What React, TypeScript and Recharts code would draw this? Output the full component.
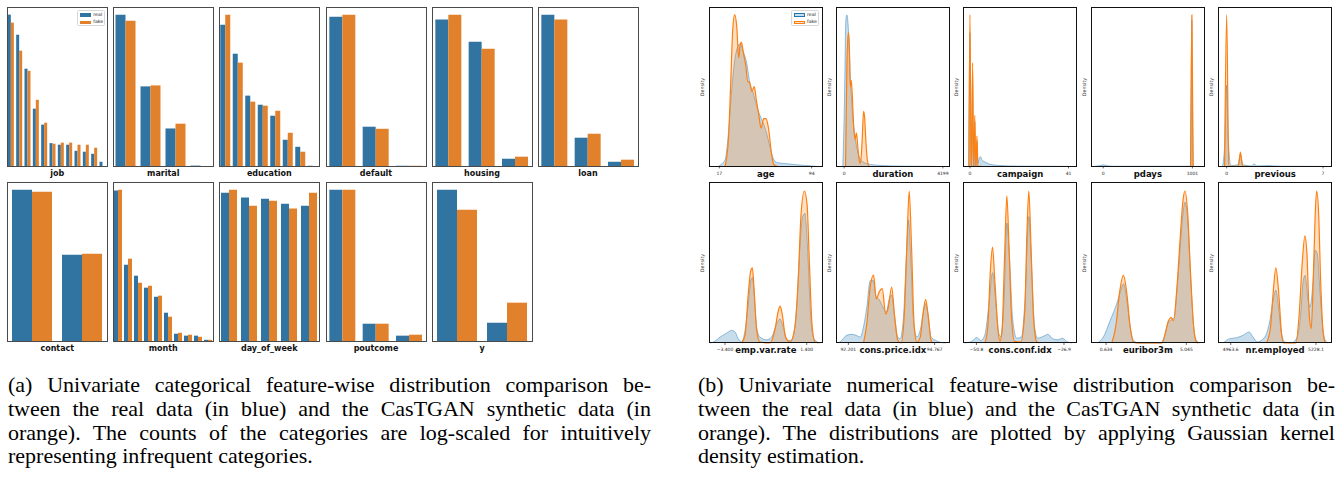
import { BarChart, Bar, AreaChart, Area, XAxis, YAxis } from 'recharts'

const BLUE = '#3274a1'
const ORANGE = '#e1812c'
const KDE_BLUE = '#1f77b4'
const KDE_ORANGE = '#ff7f0e'

// (a) categorical: bar heights on the log-count axis, read as % of the axes height
const jobCats = ['admin.', 'blue-collar', 'technician', 'services', 'management', 'retired', 'entrepreneur', 'self-employed', 'housemaid', 'unemployed', 'student', 'unknown']
const jobReal = [95.2, 82.6, 61.3, 36.2, 26.2, 14.6, 13.6, 13.6, 9.8, 9.2, 7.9, 2.9]
const jobFake = [90.2, 72.6, 60.0, 41.8, 27.4, 14.2, 14.9, 14.9, 13.6, 13.6, 11.7, 0]

const maritalCats = ['married', 'single', 'divorced', 'unknown']
const maritalReal = [95.2, 50.2, 23.8, 0.5]
const maritalFake = [91.4, 50.8, 26.8, 0]

const educationCats = ['university.degree', 'high.school', 'basic.9y', 'professional.course', 'basic.4y', 'basic.6y', 'unknown', 'illiterate']
const educationReal = [88.9, 70.7, 44.4, 38.7, 31.8, 16.7, 12.3, 0.4]
const educationFake = [95.2, 65.1, 40.6, 38.1, 34.9, 21.1, 9.2, 0]

const defaultCats = ['no', 'unknown', 'yes']
const defaultReal = [93.9, 24.9, 0.4]
const defaultFake = [95.2, 23.6, 0.4]

const housingCats = ['yes', 'no', 'unknown']
const housingReal = [92.1, 78.2, 4.8]
const housingFake = [95.2, 73.8, 6.1]

const loanCats = ['no', 'yes', 'unknown']
const loanReal = [95.2, 18.0, 2.9]
const loanFake = [92.1, 20.5, 4.2]

const contactCats = ['cellular', 'telephone']
const contactReal = [95.2, 54.4]
const contactFake = [93.9, 55.0]

const monthCats = ['may', 'jul', 'aug', 'jun', 'nov', 'apr', 'oct', 'sep', 'mar', 'dec']
const monthReal = [94.6, 48.1, 41.2, 33.7, 28.0, 18.0, 4.8, 3.6, 3.6, 1.0]
const monthFake = [95.2, 51.9, 36.8, 34.9, 28.7, 15.5, 5.4, 4.2, 2.9, 1.0]

const dayCats = ['thu', 'mon', 'wed', 'tue', 'fri']
const dayReal = [93.3, 90.2, 89.5, 86.4, 85.1]
const dayFake = [95.2, 85.1, 88.3, 83.3, 93.3]

const poutcomeCats = ['nonexistent', 'failure', 'success']
const poutcomeReal = [95.2, 11.1, 3.6]
const poutcomeFake = [95.2, 11.1, 4.2]

const yCats = ['no', 'yes']
const yReal = [95.2, 11.7]
const yFake = [82.6, 24.3]

// (b) numerical: KDE curves as [value, density in % of axes height]
const ageReal = [[16.2, 0], [19, 1.5], [21.8, 4], [24.6, 21], [27.3, 48], [30.1, 68], [32.3, 75], [34.3, 77], [37, 72], [39.8, 65], [42.6, 52], [45.3, 46], [48.1, 38], [50.9, 32], [53.7, 27], [56.4, 21], [59.2, 12.5], [62, 5], [64.8, 2.5], [69, 2], [73.1, 1.7], [81.5, 1], [92.6, 0.4], [98, 0]]
const ageFake = [[21.8, 0], [24.6, 17], [26.5, 52], [28.2, 86], [29.8, 95.2], [31.5, 88], [33.2, 68], [34.3, 76], [35.4, 78], [37.1, 71], [39.1, 63], [40.7, 53], [42.1, 53], [44.1, 47], [46.1, 50], [47.8, 42], [49.8, 33], [51.8, 24], [54, 30], [56, 30], [58.2, 23], [60.5, 8], [62.5, 1], [65.3, 0]]

const durationReal = [[-58, 0], [14, 42], [72, 92], [116, 95], [188, 84], [260, 56], [333, 38], [405, 25], [478, 17], [579, 9], [695, 4.6], [840, 2.5], [1130, 1.2], [1564, 0.6], [2432, 0.2], [3880, 0]]
const durationFake = [[58, 0], [116, 63], [174, 84], [217, 77], [260, 50], [304, 54], [347, 44], [405, 25], [463, 17], [521, 21], [579, 12.5], [637, 4], [695, 2], [767, 17], [825, 34.5], [869, 31], [927, 15], [985, 4], [1058, 0]]

const campaignReal = [[-0.5, 0], [0, 84], [0.45, 0], [0.65, 0], [1.1, 56], [1.5, 0], [1.6, 0], [2.0, 28], [2.4, 0], [2.5, 0], [2.9, 16], [3.3, 2], [3.8, 5], [4.4, 6], [5, 4], [6, 3], [8, 1.5], [12, 0.6], [20, 0.2], [41, 0]]
const campaignFake = [[-0.45, 0], [0, 95], [0.45, 0], [0.65, 0], [1.1, 65], [1.5, 0], [1.6, 0], [2.0, 32], [2.4, 0], [2.5, 0], [2.9, 19], [3.3, 0], [5, 0]]

const pdaysReal = [[-100, 0], [-30, 0.6], [0, 1], [30, 0.6], [100, 0.1], [500, 0.1], [960, 0.1], [982, 0], [995, 92], [1008, 0], [1100, 0]]
const pdaysFake = [[980, 0], [995, 95], [1010, 0]]

const previousReal = [[-0.3, 0], [-0.12, 18], [0, 51], [0.12, 18], [0.3, 0.5], [0.8, 1], [1, 7], [1.2, 1], [1.8, 0.3], [2, 1.5], [2.2, 0.3], [3, 0.5], [4, 0.1], [7, 0]]
const previousFake = [[-0.15, 0], [0, 95], [0.15, 0], [0.85, 0], [1, 9], [1.15, 0], [1.5, 0]]

const empReal = [[-4.28, 0], [-4.08, 0.6], [-3.69, 3.7], [-3.3, 6.2], [-3.01, 7.9], [-2.81, 6.9], [-2.62, 2.7], [-2.42, 0.6], [-2.22, 8], [-2.03, 24.6], [-1.89, 39], [-1.79, 41], [-1.7, 33], [-1.54, 10], [-1.35, 3.7], [-0.96, 2], [-0.66, 3.7], [-0.37, 12], [-0.17, 15], [0.02, 10], [0.26, 1.7], [0.51, 1.7], [0.81, 22.5], [1.0, 60], [1.16, 79], [1.3, 81], [1.44, 62], [1.63, 18], [1.79, 3.7], [2.03, 0.6], [2.2, 0]]
const empFake = [[-2.42, 0], [-2.22, 5], [-2.03, 31], [-1.89, 45], [-1.79, 47], [-1.7, 35], [-1.54, 8], [-1.35, 0.6], [-0.76, 0], [-0.47, 8], [-0.27, 20], [-0.16, 23], [-0.04, 18], [0.16, 3.7], [0.42, 0.6], [0.71, 10], [0.91, 41], [1.06, 79], [1.26, 95], [1.42, 87], [1.56, 50], [1.71, 12], [1.89, 0.6], [2.1, 0]]

const priceReal = [[91.88, 0], [91.95, 0.6], [92.15, 4.8], [92.3, 5.4], [92.43, 4.8], [92.55, 3.7], [92.65, 10], [92.75, 22.5], [92.85, 39], [92.94, 39], [93.03, 29], [93.12, 27], [93.23, 22.5], [93.33, 19.4], [93.41, 27], [93.49, 30], [93.57, 18], [93.67, 3.7], [93.74, 2.7], [93.84, 16], [93.92, 52], [93.99, 77], [94.06, 52], [94.14, 14], [94.24, 3.7], [94.36, 10], [94.44, 20], [94.5, 24.6], [94.57, 18], [94.66, 3.7], [94.79, 1.7], [94.94, 0.4], [95.1, 0]]
const priceFake = [[92.65, 0], [92.75, 12], [92.85, 35], [92.95, 42.5], [93.03, 27.5], [93.12, 32], [93.21, 34], [93.31, 18], [93.39, 22.5], [93.49, 35], [93.57, 18], [93.67, 1.7], [93.77, 0], [93.87, 20], [93.94, 60], [94.01, 95], [94.08, 60], [94.16, 10], [94.24, 0.6], [94.34, 3.7], [94.42, 18], [94.5, 27.3], [94.57, 18], [94.66, 1.7], [94.72, 0]]

const confReal = [[-54.0, 0], [-52.1, 1], [-50.7, 3.5], [-49.6, 1.5], [-48.5, 5], [-47.4, 24], [-46.4, 44], [-45.5, 25], [-44.7, 6], [-44.2, 4], [-43.3, 25], [-42.5, 75], [-41.7, 50], [-40.9, 15], [-39.8, 3], [-38.5, 3.7], [-37.6, 25], [-36.5, 79], [-35.7, 45], [-34.9, 10], [-34.1, 3], [-32.7, 4], [-31.3, 5.4], [-30.0, 2.7], [-28.6, 2], [-27.3, 3], [-26.2, 1], [-24.8, 0]]
const confFake = [[-48.5, 0], [-47.7, 10], [-47.0, 45], [-46.4, 60], [-45.8, 40], [-44.9, 8], [-44.4, 1], [-43.8, 8], [-43.1, 55], [-42.5, 92], [-41.9, 60], [-41.2, 15], [-40.4, 1], [-38.7, 0.5], [-37.6, 20], [-37.0, 70], [-36.5, 95], [-35.9, 60], [-35.2, 15], [-34.4, 1], [-33.6, 0]]

const euriborReal = [[0.154, 0], [0.485, 3.7], [0.855, 14], [1.22, 24.6], [1.445, 33], [1.59, 37], [1.775, 27], [1.96, 10], [2.14, 1.7], [2.415, 0], [3.61, 0], [3.83, 3.7], [4.01, 12], [4.16, 14], [4.38, 16], [4.53, 33], [4.71, 60], [4.86, 81], [4.97, 88], [5.12, 77], [5.27, 44], [5.45, 10], [5.6, 1.7], [5.78, 0]]
const euriborFake = [[0.95, 0], [1.19, 12], [1.37, 31], [1.59, 42.3], [1.775, 31], [1.96, 10], [2.14, 0.6], [2.3, 0], [3.71, 0], [3.89, 6], [4.07, 14], [4.21, 16], [4.34, 14], [4.53, 35], [4.71, 66], [4.86, 89], [4.97, 95], [5.12, 81], [5.27, 45], [5.45, 10], [5.6, 0.6], [5.7, 0]]

const nrReal = [[4939.6, 0], [4960.5, 2.7], [4981.3, 3.3], [5001.9, 4.8], [5020.6, 6.9], [5033, 3.7], [5045.4, 0.6], [5069.4, 3.7], [5085, 14], [5095.2, 27], [5103.6, 33], [5112, 22.5], [5121.4, 5.8], [5131.6, 0.6], [5152.5, 0], [5169.9, 3.7], [5180.5, 18], [5188.6, 39], [5194.8, 42.3], [5202.3, 29], [5209.4, 22.5], [5217.8, 35], [5225.9, 58], [5232.2, 56], [5240.6, 33], [5249, 10], [5257, 1.7], [5265, 0]]
const nrFake = [[5074.7, 0], [5087.1, 10], [5095.2, 31], [5103.6, 47], [5112, 33], [5121.4, 5.8], [5128.5, 0], [5165.9, 0], [5176.1, 18], [5185.5, 50], [5193.9, 67], [5200.1, 56], [5207.3, 18], [5213.5, 9], [5219.7, 39], [5225.9, 81], [5230.3, 95], [5236.5, 81], [5242.7, 39], [5250.8, 5.8], [5257, 0]]

const captionA = [
  '(a) Univariate categorical feature-wise distribution comparison be-',
  'tween the real data (in blue) and the CasTGAN synthetic data (in',
  'orange). The counts of the categories are log-scaled for intuitively',
  'representing infrequent categories.',
]
const captionB = [
  '(b) Univariate numerical feature-wise distribution comparison be-',
  'tween the real data (in blue) and the CasTGAN synthetic data (in',
  'orange). The distributions are plotted by applying Gaussian kernel',
  'density estimation.',
]

type Box = { x: number; y: number; w: number; h: number }

function LegendBox({ x, y, outline }: { x: number; y: number; outline?: boolean }) {
  const items = [
    { name: 'real', c: outline ? KDE_BLUE : BLUE, soft: 'rgba(31,119,180,0.25)' },
    { name: 'fake', c: outline ? KDE_ORANGE : ORANGE, soft: 'rgba(255,127,14,0.25)' },
  ]
  return (
    <div style={{ position: 'absolute', left: x, top: y, width: 28, height: 16, border: '0.6px solid #d8d8d8', borderRadius: 1.5, background: 'rgba(255,255,255,0.85)', boxSizing: 'border-box' }}>
      {items.map((it, i) => (
        <div key={it.name}>
          <div
            style={{
              position: 'absolute',
              left: 1.5,
              top: 2 + i * 7.3,
              width: 11,
              height: 3.6,
              boxSizing: 'border-box',
              ...(outline ? { border: `0.9px solid ${it.c}`, background: it.soft } : { background: it.c }),
            }}
          />
          <div style={{ position: 'absolute', left: 15, top: 0.8 + i * 7.3, fontSize: 4.7, lineHeight: '6px', color: '#222' }}>{it.name}</div>
        </div>
      ))}
    </div>
  )
}

function PanelLabel({ box, name, size }: { box: Box; name: string; size: number }) {
  return (
    <div style={{ position: 'absolute', left: box.x - 20, width: box.w + 40, top: box.y + box.h + 2.8, textAlign: 'center', fontSize: size, lineHeight: '8px', fontWeight: 'bold', color: '#111' }}>
      {name}
    </div>
  )
}

function BarPanel({ box, name, cats, real, fake, legend }: { box: Box; name: string; cats: string[]; real: number[]; fake: number[]; legend?: boolean }) {
  const data = cats.map((c, i) => ({ cat: c, real: real[i], fake: fake[i] }))
  return (
    <>
      <div style={{ position: 'absolute', left: box.x, top: box.y }}>
        <BarChart width={box.w} height={box.h} data={data} margin={{ top: 0, right: 0, bottom: 0, left: 0 }} barCategoryGap="10%" barGap={0}>
          <XAxis dataKey="cat" hide />
          <YAxis hide domain={[0, 100]} />
          <Bar dataKey="real" fill={BLUE} isAnimationActive={false} />
          <Bar dataKey="fake" fill={ORANGE} isAnimationActive={false} />
        </BarChart>
      </div>
      <div style={{ position: 'absolute', left: box.x - 0.5, top: box.y - 0.5, width: box.w + 1, height: box.h + 1, border: '1.4px solid #4a4a4a', boxSizing: 'border-box' }} />
      {legend && <LegendBox x={box.x + 70} y={box.y + 3} />}
      <PanelLabel box={box} name={name} size={8} />
    </>
  )
}

function DensityPanel({ box, name, real, fake, domain, ticks, labels, legend }: { box: Box; name: string; real: number[][]; fake: number[][]; domain: [number, number]; ticks: number[]; labels: string[]; legend?: boolean }) {
  const data = [
    ...real.map(([x, v]) => ({ x, real: v })),
    ...fake.map(([x, v]) => ({ x, fake: v })),
  ].sort((a, b) => a.x - b.x)
  return (
    <>
      <div style={{ position: 'absolute', left: box.x, top: box.y }}>
        <AreaChart width={box.w} height={box.h + 12} data={data} margin={{ top: 0, right: 0, bottom: 0, left: 0 }}>
          <XAxis
            dataKey="x"
            type="number"
            domain={domain}
            allowDataOverflow
            ticks={ticks}
            interval={0}
            tickFormatter={(v: number) => labels[ticks.indexOf(v)] ?? ''}
            tick={{ fontSize: 4.5, fill: '#222' }}
            tickSize={2}
            tickMargin={3}
            axisLine={false}
            tickLine={{ stroke: '#000', strokeWidth: 0.6 }}
            height={12}
          />
          <YAxis hide domain={[0, 100]} />
          <Area type="monotone" dataKey="real" connectNulls stroke={KDE_BLUE} strokeOpacity={0.55} strokeWidth={0.8} fill={KDE_BLUE} fillOpacity={0.25} dot={false} activeDot={false} isAnimationActive={false} />
          <Area type="monotone" dataKey="fake" connectNulls stroke={KDE_ORANGE} strokeWidth={1.2} fill={KDE_ORANGE} fillOpacity={0.25} dot={false} activeDot={false} isAnimationActive={false} />
        </AreaChart>
      </div>
      <div style={{ position: 'absolute', left: box.x - 0.5, top: box.y - 0.5, width: box.w + 1, height: box.h + 1, border: '1.2px solid #111', boxSizing: 'border-box' }} />
      <div style={{ position: 'absolute', left: box.x - 6 - 15, top: box.y + box.h / 2 - 3, width: 30, textAlign: 'center', fontSize: 4.8, lineHeight: '6px', color: '#333', transform: 'rotate(-90deg)' }}>
        Density
      </div>
      {legend && <LegendBox x={box.x + 82} y={box.y + 3} outline />}
      <PanelLabel box={box} name={name} size={8.5} />
    </>
  )
}

function Caption({ x, w, lines }: { x: number; w: number; lines: string[] }) {
  return (
    <div style={{ position: 'absolute', left: x, top: 373, width: w, fontFamily: '"Liberation Serif", "Times New Roman", serif', fontSize: 22, lineHeight: '23.8px', color: '#000' }}>
      {lines.map((l, i) => (
        <div key={i} style={{ textAlign: i < lines.length - 1 ? 'justify' : 'left', textAlignLast: i < lines.length - 1 ? 'justify' : 'left' }}>
          {l}
        </div>
      ))}
    </div>
  )
}

const L1 = 7.3
const L2 = 182.3
const LH = 159.4
const lx = [7.3, 113.3, 219.3, 326, 432, 538]
const rx = [709, 836, 963.3, 1091, 1218.3]
const RH = 159.4
const R1 = 7.3
const R2 = 182.7

export default function App() {
  const lb = (i: number, y: number): Box => ({ x: lx[i], y, w: 100, h: LH })
  const rb = (i: number, y: number): Box => ({ x: rx[i], y, w: 113.7, h: RH + (y === R2 ? 0.6 : 0) })
  return (
    <div style={{ position: 'absolute', left: 0, top: 0, width: 1341, height: 478, overflow: 'hidden', background: '#fff', fontFamily: '"DejaVu Sans", sans-serif' }}>
      <BarPanel box={lb(0, L1)} name="job" cats={jobCats} real={jobReal} fake={jobFake} legend />
      <BarPanel box={lb(1, L1)} name="marital" cats={maritalCats} real={maritalReal} fake={maritalFake} />
      <BarPanel box={lb(2, L1)} name="education" cats={educationCats} real={educationReal} fake={educationFake} />
      <BarPanel box={lb(3, L1)} name="default" cats={defaultCats} real={defaultReal} fake={defaultFake} />
      <BarPanel box={lb(4, L1)} name="housing" cats={housingCats} real={housingReal} fake={housingFake} />
      <BarPanel box={lb(5, L1)} name="loan" cats={loanCats} real={loanReal} fake={loanFake} />
      <BarPanel box={lb(0, L2)} name="contact" cats={contactCats} real={contactReal} fake={contactFake} />
      <BarPanel box={lb(1, L2)} name="month" cats={monthCats} real={monthReal} fake={monthFake} />
      <BarPanel box={lb(2, L2)} name="day_of_week" cats={dayCats} real={dayReal} fake={dayFake} />
      <BarPanel box={lb(3, L2)} name="poutcome" cats={poutcomeCats} real={poutcomeReal} fake={poutcomeFake} />
      <BarPanel box={lb(4, L2)} name="y" cats={yCats} real={yReal} fake={yFake} />

      <DensityPanel box={rb(0, R1)} name="age" real={ageReal} fake={ageFake} domain={[8.4, 103.2]} ticks={[17, 94]} labels={['17', '94']} legend />
      <DensityPanel box={rb(1, R1)} name="duration" real={durationReal} fake={durationFake} domain={[-348, 4489]} ticks={[0, 4199]} labels={['0', '4199']} />
      <DensityPanel box={rb(2, R1)} name="campaign" real={campaignReal} fake={campaignFake} domain={[-2.9, 44.4]} ticks={[0, 41]} labels={['0', '41']} />
      <DensityPanel box={rb(3, R1)} name="pdays" real={pdaysReal} fake={pdaysFake} domain={[-138, 1139]} ticks={[0, 1001]} labels={['0', '1001']} />
      <DensityPanel box={rb(4, R1)} name="previous" real={previousReal} fake={previousFake} domain={[-0.63, 7.63]} ticks={[0, 7]} labels={['0', '7']} />
      <DensityPanel box={rb(0, R2)} name="emp.var.rate" real={empReal} fake={empFake} domain={[-4.34, 2.34]} ticks={[-3.4, 1.4]} labels={['\u22123.400', '1.400']} />
      <DensityPanel box={rb(1, R2)} name="cons.price.idx" real={priceReal} fake={priceFake} domain={[91.833, 95.215]} ticks={[92.201, 94.767]} labels={['92.201', '94.767']} />
      <DensityPanel box={rb(2, R2)} name="cons.conf.idx" real={confReal} fake={confFake} domain={[-54.46, -23.44]} ticks={[-50.8, -26.9]} labels={['\u221250.8', '\u221226.9']} />
      <DensityPanel box={rb(3, R2)} name="euribor3m" real={euriborReal} fake={euriborFake} domain={[-0.193, 6.054]} ticks={[0.634, 5.045]} labels={['0.634', '5.045']} />
      <DensityPanel box={rb(4, R2)} name="nr.employed" real={nrReal} fake={nrFake} domain={[4924.1, 5277.0]} ticks={[4963.6, 5228.1]} labels={['4963.6', '5228.1']} />

      <Caption x={8} w={643} lines={captionA} />
      <Caption x={698} w={637} lines={captionB} />
    </div>
  )
}
